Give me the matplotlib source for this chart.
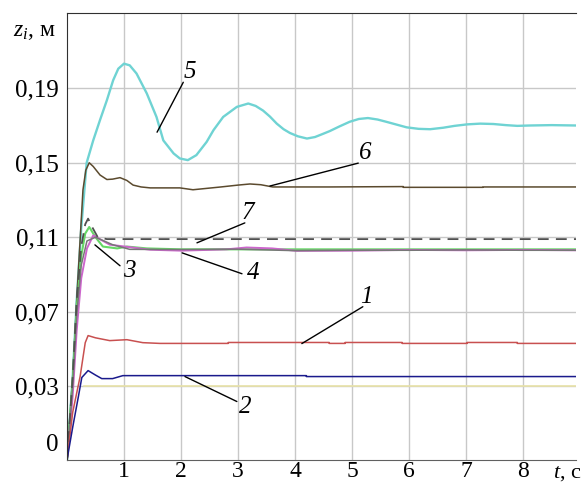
import matplotlib.pyplot as plt

plt.rcParams['font.family'] = ['Liberation Serif', 'DejaVu Serif']
plt.rcParams['mathtext.fontset'] = 'custom'
plt.rcParams['mathtext.rm'] = 'Liberation Serif'
plt.rcParams['mathtext.it'] = 'Liberation Serif:italic'

# кривая 5 (голубая)
t5 = [0, 0.1, 0.17, 0.25, 0.345, 0.46, 0.58, 0.70, 0.81, 0.90, 1.0, 1.1, 1.22, 1.40, 1.57, 1.69, 1.87,
      1.98, 2.12, 2.27, 2.45, 2.57, 2.74, 2.98, 3.18, 3.31, 3.44, 3.56, 3.68, 3.8, 3.91, 4.05, 4.21,
      4.35, 4.49, 4.61, 4.78, 4.96, 5.12, 5.28, 5.45, 5.6, 5.78, 5.96, 6.17, 6.37, 6.6, 6.8, 7.02,
      7.25, 7.48, 7.7, 7.9, 8.12, 8.5, 8.93]
z5 = [-0.0096, 0.035, 0.076, 0.115, 0.150, 0.162, 0.173, 0.1836, 0.1943, 0.2005, 0.2032, 0.2023,
      0.1979, 0.1872, 0.1746, 0.162, 0.155, 0.1523, 0.1514, 0.1541, 0.1612, 0.1675, 0.1746, 0.180,
      0.1818, 0.1805, 0.178, 0.1748, 0.171, 0.168, 0.166, 0.1642, 0.163, 0.1638, 0.1655, 0.167,
      0.1695, 0.172, 0.1735, 0.174, 0.1732, 0.172, 0.1705, 0.169, 0.1682, 0.168, 0.1688, 0.1698,
      0.1706, 0.171, 0.1708, 0.1702, 0.1698, 0.170, 0.1702, 0.170]

# кривая 6 (коричневая)
t6 = [0, 0.1, 0.17, 0.28, 0.33, 0.39, 0.46, 0.58, 0.7, 0.8, 0.93, 1.05, 1.16, 1.3, 1.46, 1.98, 2.21,
      2.7, 3.0, 3.21, 3.4, 3.61, 4.6, 5.9, 5.9, 7.3, 7.3, 8.93]
z6 = [-0.0096, 0.035, 0.076, 0.1354, 0.146, 0.150, 0.148, 0.1434, 0.141, 0.1412, 0.142, 0.1405, 0.138,
      0.137, 0.1365, 0.1365, 0.1355, 0.137, 0.138, 0.1386, 0.1382, 0.137, 0.137, 0.1372, 0.1368,
      0.1368, 0.137, 0.137]

# кривая 7 (штриховая)
t7 = [0, 0.1, 0.17, 0.25, 0.32, 0.37, 0.45, 0.54, 0.7, 8.93]
z7 = [-0.0096, 0.035, 0.076, 0.105, 0.117, 0.120, 0.115, 0.110, 0.109, 0.109]

# кривая 3 (зелёная)
t3 = [0, 0.1, 0.17, 0.25, 0.32, 0.39, 0.5, 0.63, 0.88, 1.05, 1.4, 2.0, 8.93]
z3 = [-0.0096, 0.033, 0.072, 0.100, 0.112, 0.1155, 0.110, 0.105, 0.104, 0.105, 0.104, 0.1035, 0.1035]

# серая кривая без номера
tg = [0, 0.1, 0.17, 0.25, 0.35, 0.5, 0.8, 1.1, 2.0, 3.0, 4.0, 5.0, 6.0, 7.0, 8.0, 8.93]
zg = [-0.0096, 0.03, 0.068, 0.095, 0.108, 0.110, 0.106, 0.1035, 0.1034, 0.1036, 0.1028, 0.103, 0.103,
      0.1032, 0.103, 0.103]

# кривая 4 (фиолетовая)
t4 = [0, 0.1, 0.17, 0.25, 0.35, 0.46, 0.75, 1.46, 2.0, 2.8, 3.15, 3.6, 4.03, 5.0, 6.0, 7.0, 8.0, 8.93]
z4 = [-0.0096, 0.025, 0.06, 0.088, 0.104, 0.111, 0.106, 0.1033, 0.1028, 0.1035, 0.1045, 0.104, 0.1027,
      0.1028, 0.1032, 0.103, 0.1032, 0.103]

# кривая 1 (красная)
t1 = [0, 0.1, 0.23, 0.32, 0.37, 0.5, 0.75, 1.05, 1.33, 1.63, 2.83, 2.83, 4.6, 4.6, 4.88, 4.88, 5.88, 5.88,
      7.02, 7.02, 7.9, 7.9, 8.93]
z1 = [-0.0096, 0.016, 0.0352, 0.0534, 0.0572, 0.056, 0.0545, 0.055, 0.0534, 0.053, 0.053, 0.0535, 0.0535,
      0.053, 0.053, 0.0535, 0.0535, 0.053, 0.053, 0.0535, 0.0535, 0.053, 0.053]

# кривая 2 (синяя)
t2 = [0, 0.1, 0.2, 0.26, 0.37, 0.5, 0.61, 0.8, 0.98, 4.2, 4.2, 8.93]
z2 = [-0.0096, 0.008, 0.0245, 0.0347, 0.0384, 0.036, 0.0341, 0.0341, 0.0357, 0.0357, 0.0352, 0.0352]

# бледная линия
ty = [0.3, 8.93]
zy = [0.0302, 0.0302]

y_ticks = [0, 0.03, 0.07, 0.11, 0.15, 0.19]
y_labels = ['0', '0,03', '0,07', '0,11', '0,15', '0,19']
x_ticks = [1, 2, 3, 4, 5, 6, 7, 8]

fig = plt.figure(figsize=(5.84, 4.86), dpi=100)
ax = fig.add_axes([67 / 584, 26 / 486, 509 / 584, 447 / 486])

ax.plot(ty, zy, color='#e8e2a8', lw=1.2)
ax.plot(t5, z5, color='#6fd3d3', lw=1.7)
ax.plot(t6, z6, color='#5b4a2e', lw=1.1)
ax.plot(t3, z3, color='#66d866', lw=1.5)
ax.plot(t4, z4, color='#cc66cc', lw=1.4)
ax.plot(tg, zg, color='#777777', lw=1.1)
ax.plot(t7, z7, color='#505050', lw=1.3, dashes=(6, 4))
ax.plot(t1, z1, color='#c85050', lw=1.1)
ax.plot(t2, z2, color='#1a1a8c', lw=1.1)

ax.set_xlim(0, 8.93)
ax.set_ylim(-0.0096, 0.2304)
ax.set_xticks(x_ticks)
ax.set_xticklabels([str(v) for v in x_ticks])
ax.set_yticks(y_ticks)
ax.set_yticklabels(y_labels)
ax.tick_params(length=0, labelsize=18, pad=6)
ax.tick_params(axis='x', labelsize=17, pad=1)
ax.grid(True, color='#c8c8c8', lw=1)
ax.yaxis.get_gridlines()[0].set_visible(False)
for s in ['left', 'top']:
    ax.spines[s].set_color('#303030')
ax.spines['bottom'].set_color('#606060')
ax.spines['right'].set_visible(False)

# выноски
labels = [('5', (1.58, 0.1664), (2.04, 0.1932), (2.16, 0.1986)),
          ('6', (3.56, 0.1375), (5.11, 0.1498), (5.23, 0.155)),
          ('7', (2.28, 0.107), (3.12, 0.1177), (3.18, 0.123)),
          ('3', (0.49, 0.1059), (0.93, 0.0947), (1.1, 0.092)),
          ('4', (2.02, 0.1016), (3.07, 0.0904), (3.26, 0.0909)),
          ('1', (4.12, 0.0529), (5.19, 0.0727), (5.26, 0.078)),
          ('2', (2.07, 0.0352), (2.98, 0.0218), (3.12, 0.019))]
for txt, p0, p1, pt in labels:
    ax.annotate('', xy=p0, xytext=p1, arrowprops=dict(arrowstyle='-', color='black', lw=1, shrinkA=0, shrinkB=0))
    ax.text(pt[0], pt[1], txt, fontsize=18, style='italic', ha='center', va='center')

fig.text(13 / 584, 1 - 32 / 486, '$z_i$, м', fontsize=17, va='center', ha='left')
fig.text(582 / 584, 1 - 473 / 486, '$t$, с', fontsize=16, va='center', ha='right')

fig.savefig('out.png', dpi=100)
